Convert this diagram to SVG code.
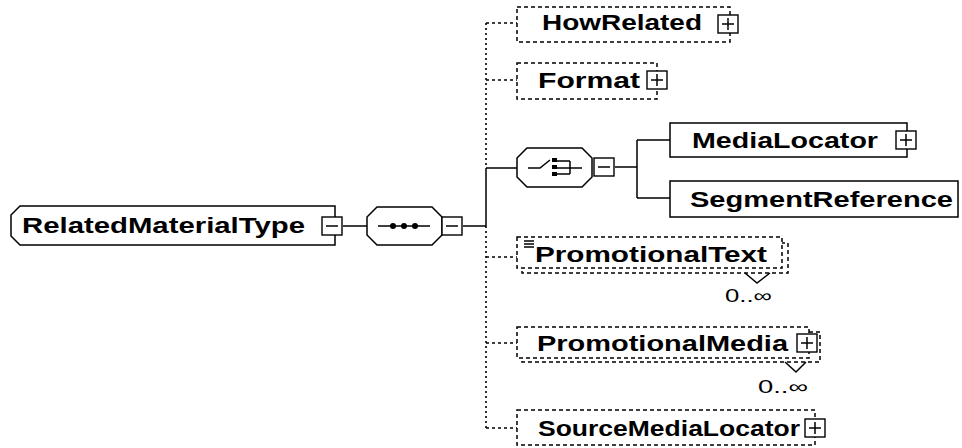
<svg xmlns="http://www.w3.org/2000/svg" width="962" height="448" viewBox="0 0 962 448">
<style>
.bx{fill:#fff;stroke:#000;stroke-width:1.5}
.opt{fill:#fff;stroke:#000;stroke-width:1.5;stroke-dasharray:4 3}
.lbl{font-family:"Liberation Sans",Arial,sans-serif;font-weight:bold;font-size:22px;fill:#000}
.occ{font-family:"Liberation Sans","DejaVu Sans",sans-serif;font-size:18px;fill:#000}
.btn{fill:#fff;stroke:#000;stroke-width:1.4}
.sol{stroke:#000;stroke-width:1.5;fill:none}
.dot{stroke:#000;stroke-width:1.6;fill:none;stroke-dasharray:2 3}
.dsh{stroke:#000;stroke-width:1.5;fill:none;stroke-dasharray:3 3}
</style>
<defs>
<g id="plus"><rect class="btn" x="0" y="0" width="20" height="18"/><path class="sol" d="M4 9H16M10 3V15"/></g>
<g id="minus"><rect class="btn" x="0" y="0" width="20" height="18"/><path class="sol" d="M4 9H16"/></g>
</defs>
<rect width="962" height="448" fill="#fff"/>

<g id="connectors">
<path class="sol" d="M343 226H367M463 226H486M486 168V226M486 168H517M615 167H637M637 140V198M637 140H670M637 198H670"/>
<path class="dot" d="M486 23V168M486 226V428"/>
<path class="dsh" d="M486 23H517M486 80H517M486 257H517M486 343H517M486 428H517"/>
</g>

<g id="RelatedMaterialType">
<path class="bx" d="M20 206H335V245H20L11 236V215Z"/>
<text class="lbl" x="22" y="233" textLength="283" lengthAdjust="spacingAndGlyphs">RelatedMaterialType</text>
<use href="#minus" x="322" y="217"/>
</g>

<g id="sequence">
<path class="bx" d="M377 207H432L442 217V235L432 245H377L367 235V217Z"/>
<path class="sol" d="M378 226H430"/>
<circle cx="393" cy="226" r="3" fill="#000"/>
<circle cx="404" cy="226" r="3" fill="#000"/>
<circle cx="415" cy="226" r="3" fill="#000"/>
<use href="#minus" x="442" y="217"/>
</g>

<g id="choice">
<path class="bx" d="M527 148H582L592 158V177L582 187H527L517 177V158Z"/>
<path class="sol" d="M528 168H540L550 160M557 161H570M557 168H582M557 174H570M570 161V174"/>
<rect x="552" y="158" width="5" height="4" fill="#000"/>
<rect x="552" y="165" width="5" height="4" fill="#000"/>
<rect x="552" y="172" width="5" height="4" fill="#000"/>
<use href="#minus" x="594" y="158"/>
</g>

<g id="HowRelated">
<rect class="opt" x="517" y="7" width="213" height="35"/>
<text class="lbl" x="542" y="30" textLength="160" lengthAdjust="spacingAndGlyphs">HowRelated</text>
<use href="#plus" x="718" y="15"/>
</g>

<g id="Format">
<rect class="opt" x="517" y="63" width="140" height="36"/>
<text class="lbl" x="538" y="88" textLength="102" lengthAdjust="spacingAndGlyphs">Format</text>
<use href="#plus" x="647" y="71"/>
</g>

<g id="MediaLocator">
<rect class="bx" x="670" y="123" width="237" height="34"/>
<text class="lbl" x="692" y="148" textLength="186" lengthAdjust="spacingAndGlyphs">MediaLocator</text>
<use href="#plus" x="896" y="131"/>
</g>

<g id="SegmentReference">
<rect class="bx" x="670" y="181" width="288" height="36"/>
<text class="lbl" x="690" y="207" textLength="263" lengthAdjust="spacingAndGlyphs">SegmentReference</text>
</g>

<g id="PromotionalText">
<rect class="opt" x="522" y="243" width="266" height="30"/>
<rect class="opt" x="517" y="237" width="265" height="31"/>
<path class="sol" d="M524 241H534M524 244H534M524 247H534"/>
<text class="lbl" x="535" y="262" textLength="232" lengthAdjust="spacingAndGlyphs">PromotionalText</text>
<path class="sol" d="M745 273L757 283L770 273"/>
<text class="occ" x="725" y="302" textLength="47" lengthAdjust="spacingAndGlyphs">0..∞</text>
</g>

<g id="PromotionalMedia">
<rect class="opt" x="522" y="332" width="298" height="30"/>
<rect class="opt" x="517" y="327" width="292" height="31"/>
<text class="lbl" x="537" y="351" textLength="251" lengthAdjust="spacingAndGlyphs">PromotionalMedia</text>
<use href="#plus" x="797" y="334"/>
<path class="sol" d="M785 362L796 372L806 362"/>
<text class="occ" x="758" y="393" textLength="50" lengthAdjust="spacingAndGlyphs">0..∞</text>
</g>

<g id="SourceMediaLocator">
<rect class="opt" x="517" y="410" width="298" height="35"/>
<text class="lbl" x="538" y="436" textLength="262" lengthAdjust="spacingAndGlyphs">SourceMediaLocator</text>
<use href="#plus" x="805" y="419"/>
</g>
</svg>
